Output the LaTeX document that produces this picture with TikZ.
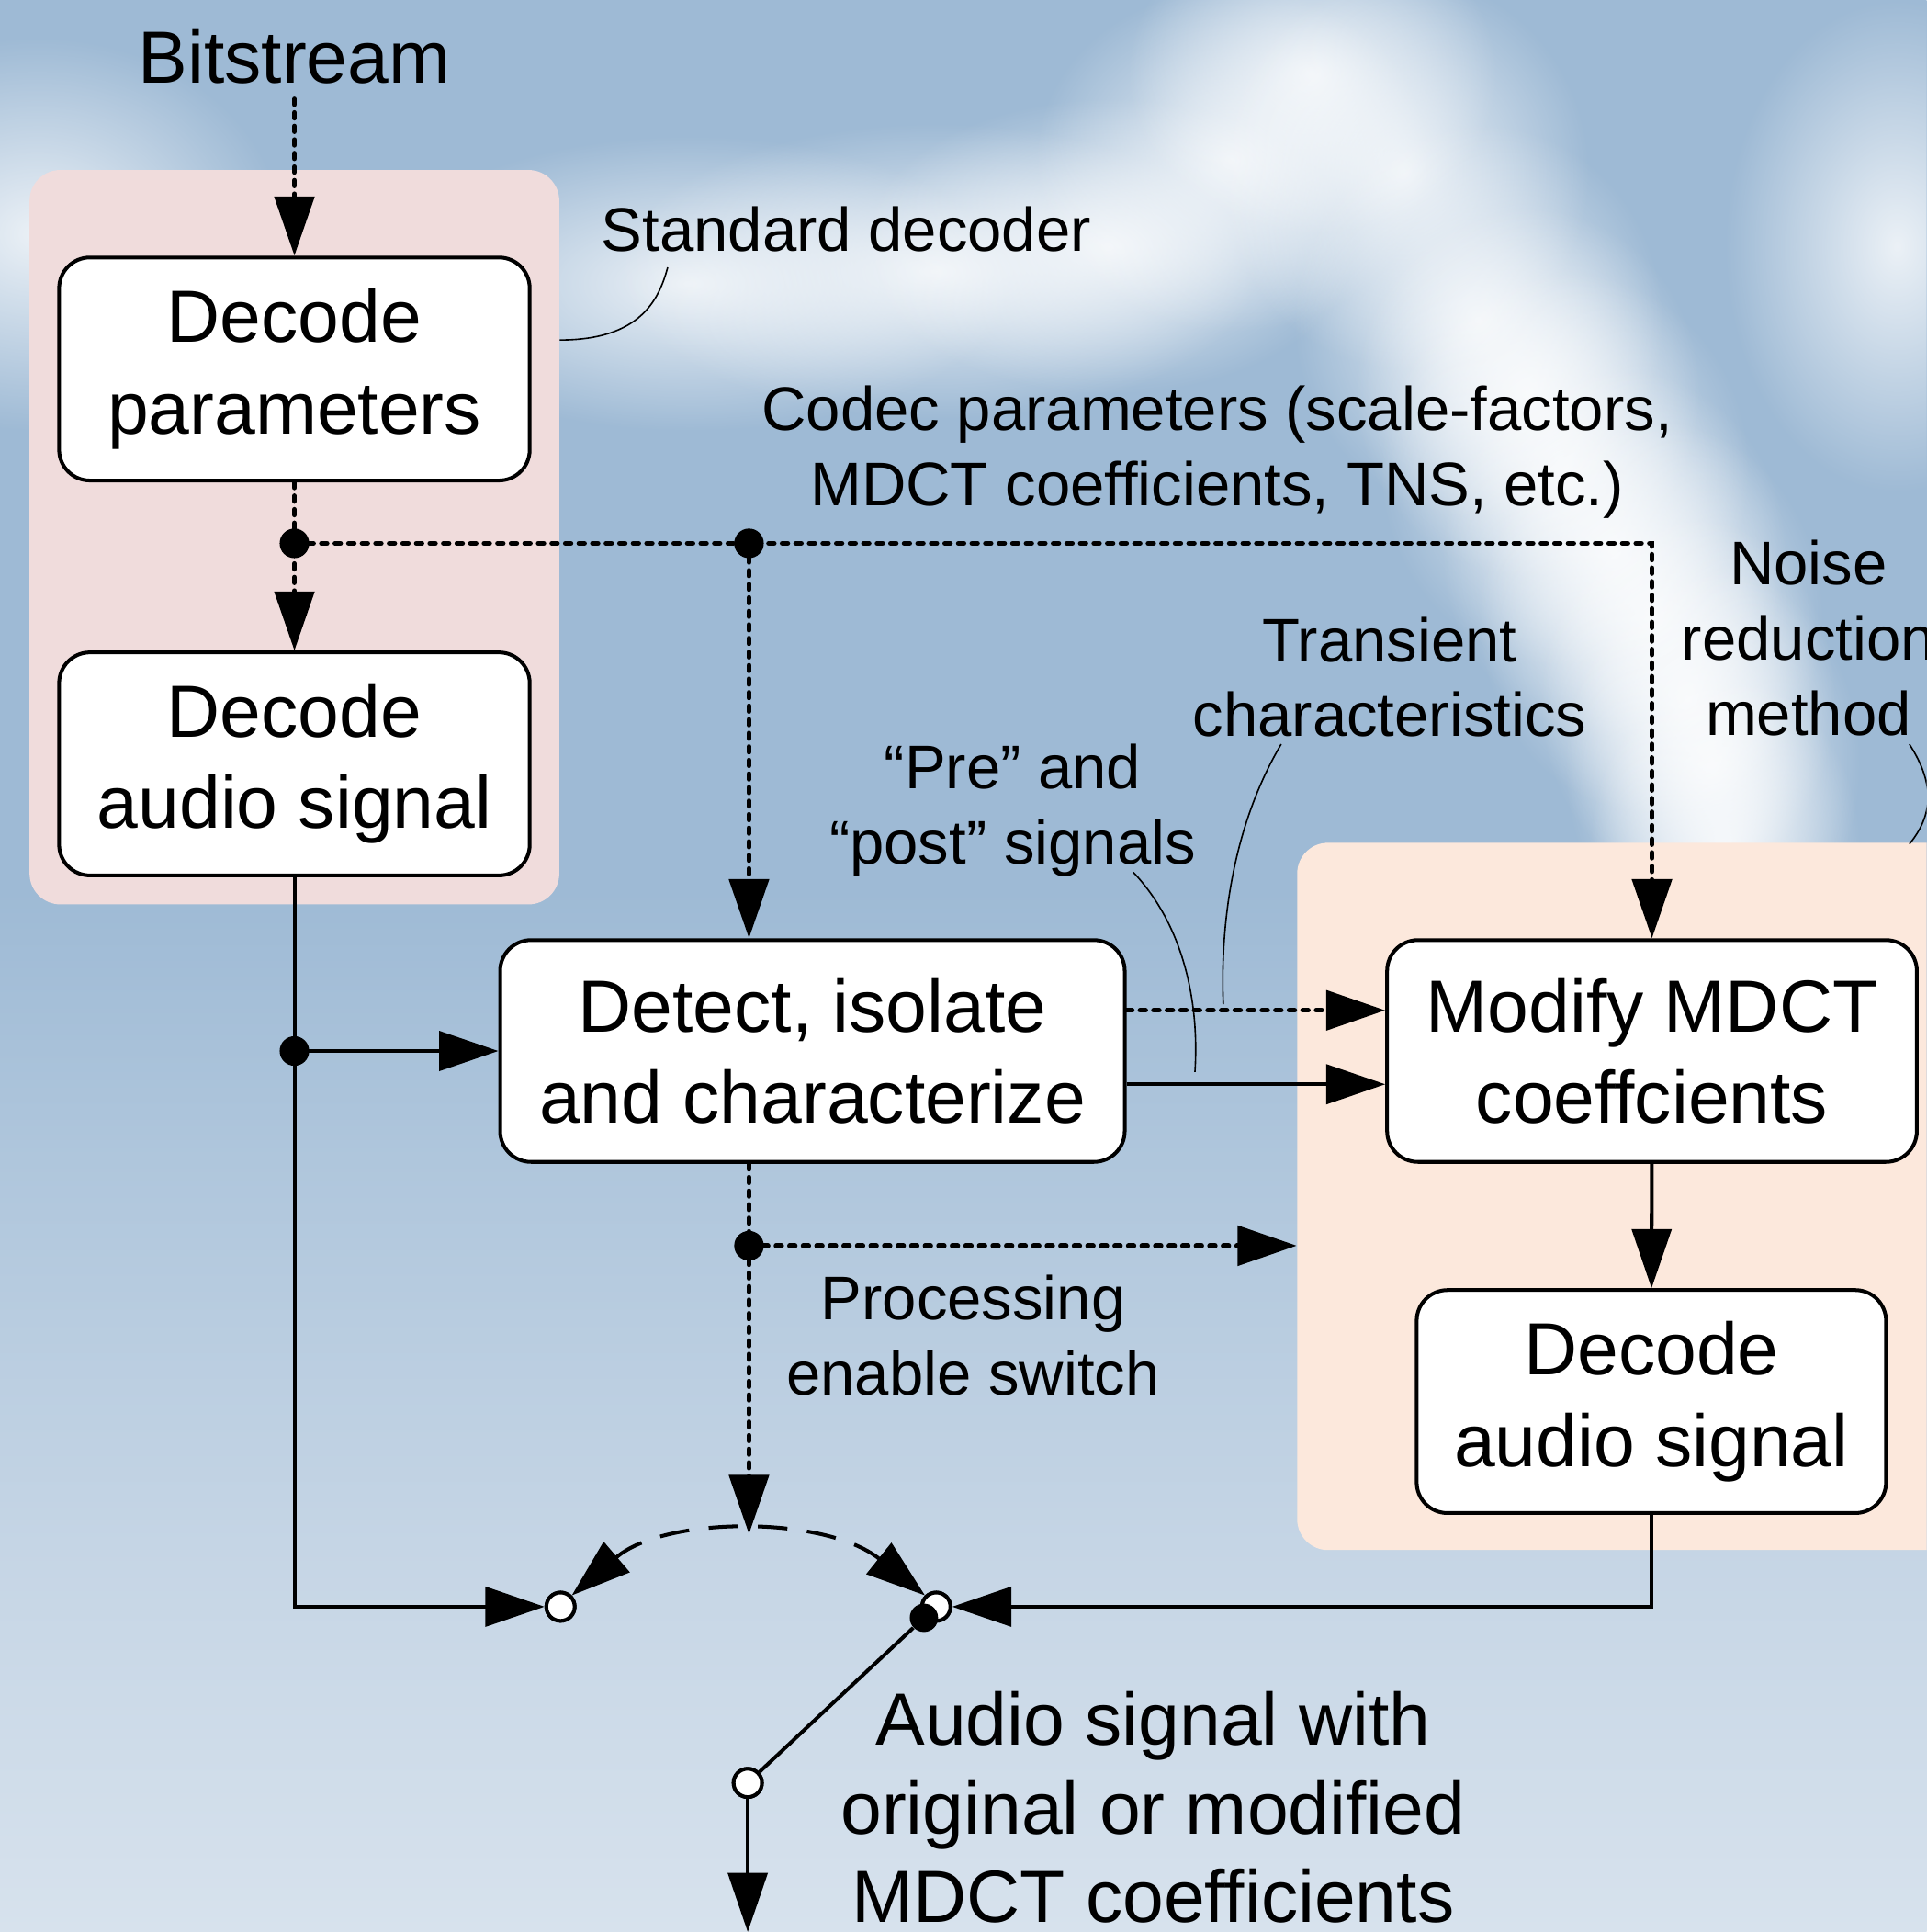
\documentclass[tikz,border=0pt]{standalone}
\usepackage{fontspec}
\setmainfont{Liberation Sans}
\usetikzlibrary{arrows.meta,fadings,calc}

\definecolor{bgTop}{RGB}{158,186,213}
\definecolor{bgMid}{RGB}{175,198,220}
\definecolor{bgLow}{RGB}{197,213,229}
\definecolor{bgBot}{RGB}{215,226,237}
\definecolor{stdFill}{RGB}{240,220,220}
\definecolor{nrFill}{RGB}{252,232,220}

\pgfdeclareverticalshading{bgshade}{100bp}{color(0bp)=(bgBot); color(25bp)=(bgBot); color(35bp)=(bgLow); color(45bp)=(bgMid); color(52bp)=(bgTop); color(100bp)=(bgTop)}
\tikzfading[name=softblob, inner color=transparent!0, outer color=transparent!100]

\tikzset{
  blk/.style={draw, line width=1.5pt, fill=white, rounded corners=12.5pt, align=center,
    font=\fontsize{30}{37}\selectfont, minimum width=191pt, minimum height=90.5pt, inner sep=0pt},
  area/.style={rounded corners=12.5pt, inner sep=0pt},
  lbl/.style={align=center, font=\fontsize{25}{30.5}\selectfont, inner sep=0pt},
  flow/.style={line width=1.5pt, -{Triangle[length=24pt,width=16pt]}},
  dotline/.style={line width=2pt, line cap=round, dash pattern=on 2.2pt off 3.3pt},
  ctl/.style={flow, dotline},
  swarc/.style={line width=1.5pt, dash pattern=on 12pt off 8pt,
    {Triangle[length=24pt,width=16pt]}-{Triangle[length=24pt,width=16pt]}},
  jdot/.style={circle, fill=black, inner sep=0pt, minimum size=12pt},
  tap/.style={circle, draw, line width=1.5pt, fill=white, inner sep=0pt, minimum size=11.5pt},
  callout/.style={line width=0.6pt},
  blob/.style={white, path fading=softblob, fill opacity=0.8}
}

\begin{document}
\begin{tikzpicture}[x=0.5pt, y=0.5pt]
  \useasboundingbox (0,0) rectangle (1564,1568);
  \clip (0,0) rectangle (1564,1568);
  % background
  \shade[shading=bgshade] (0,0) rectangle (1564,1568);
  \foreach \x/\y/\rx/\ry in {30/1378/200/160, 560/1338/260/120, 760/1348/260/120,
      900/1368/200/120, 1000/1438/160/140, 1065/1508/150/130, 1140/1428/150/160,
      1200/1308/150/160, 1240/1250/140/150, 1270/1188/150/160, 1310/1120/140/150,
      1340/1068/140/160, 1370/1000/120/150, 1390/948/120/160, 1400/880/110/140,
      1540/1368/140/200}
    \fill[blob] (\x,\y) ellipse [x radius=\rx, y radius=\ry];

  % shaded areas
  \node[area, fill=stdFill, minimum width=215pt, minimum height=298pt] (stdreg) at (239,1132) {};
  \node[area, fill=nrFill, minimum width=273.5pt, minimum height=287pt] (nrreg) at (1326.5,597) {};

  % blocks
  \node[blk] (dpar) at (239,1268.5) {Decode\\parameters};
  \node[blk] (daud1) at (239,948) {Decode\\audio signal};
  \node[blk, minimum width=253.5pt, minimum height=90pt] (detect) at (659.5,715) {Detect, isolate\\and characterize};
  \node[blk, minimum width=215pt, minimum height=90pt] (modify) at (1341,715) {Modify MDCT\\coeffcients};
  \node[blk, minimum width=190.5pt] (daud2) at (1340.5,430.5) {Decode\\audio signal};

  % labels
  \node[font=\fontsize{30}{36}\selectfont, inner sep=6pt] (bits) at (239,1522) {Bitstream};
  \node[lbl] (stdlbl) at (687,1382) {Standard decoder};
  \node[lbl] (codec) at (988,1201) {Codec parameters (scale-factors,\\MDCT coefficients, TNS, etc.)};
  \node[lbl] (noise) at (1468,1050) {Noise\\reduction\\method};
  \node[lbl] (trans) at (1128,1018.5) {Transient\\characteristics};
  \node[lbl] (prepost) at (822,910.5) {“Pre” and\\“post” signals};
  \node[lbl] (proc) at (790,484) {Processing\\enable switch};
  \node[lbl, font=\fontsize{30}{36}\selectfont] (outlbl) at (936,101) {Audio signal with\\original or modified\\MDCT coefficients};

  % junctions and switch
  \coordinate (jP) at (239,1127);
  \coordinate (jC) at (608,1127);
  \coordinate (jA) at (239,715);
  \coordinate (jE) at (608,557);
  \coordinate (swTop) at (608,323);
  \coordinate (outEnd) at (607,0);
  \node[tap] (swA) at (455,264) {};
  \node[tap] (swB) at (760,264) {};
  \node[tap] (swC) at (607,121) {};

  % control paths
  \draw[ctl] (bits) -- (dpar);
  \draw[ctl] (dpar) -- (daud1);
  \draw[ctl] (jP) -| (modify);
  \draw[ctl] (jC) -- (jC |- detect.north);
  \draw[ctl] ([yshift=16.5pt]detect.east) -- ([yshift=16.5pt]detect.east -| modify.west);
  \draw[dotline] (jE |- detect.south) -- (jE);
  \draw[ctl] (jE) -- (jE -| nrreg.west);
  \draw[ctl] (jE) -- (swTop);

  % signal paths
  \draw[flow] (daud1) |- (swA);
  \draw[flow] (jA) -- (detect);
  \draw[flow] ([yshift=-13.5pt]detect.east) -- ([yshift=-13.5pt]detect.east -| modify.west);
  \draw[flow] (modify) -- (daud2);
  \draw[flow] (daud2) |- (swB);
  \draw[swarc] (swA.north east) .. controls (540,338) and (670,338) .. (swB.north west);

  % junction dots
  \node[jdot] at (jP) {};
  \node[jdot] at (jC) {};
  \node[jdot] at (jA) {};
  \node[jdot] at (jE) {};
  \node[tap] at (swA) {};
  \node[tap] at (swB) {};
  \node[jdot, minimum size=11.5pt] (piv) at (750,255) {};
  \draw[line width=1.5pt] (piv) -- (swC);
  \node[tap] at (swC) {};
  \draw[flow] (swC) -- (outEnd);

  % callouts
  \draw[callout] (stdreg.east |- 0,1292) .. controls (520,1292) and (535,1325) .. (542,1351);
  \draw[callout] (1040,964) .. controls (1005,905) and (990,830) .. (993,753);
  \draw[callout] (920,860) .. controls (958,820) and (974,760) .. (970,698);
  \draw[callout] (1550,964) .. controls (1572,930) and (1568,905) .. (1550,883);
\end{tikzpicture}
\end{document}
